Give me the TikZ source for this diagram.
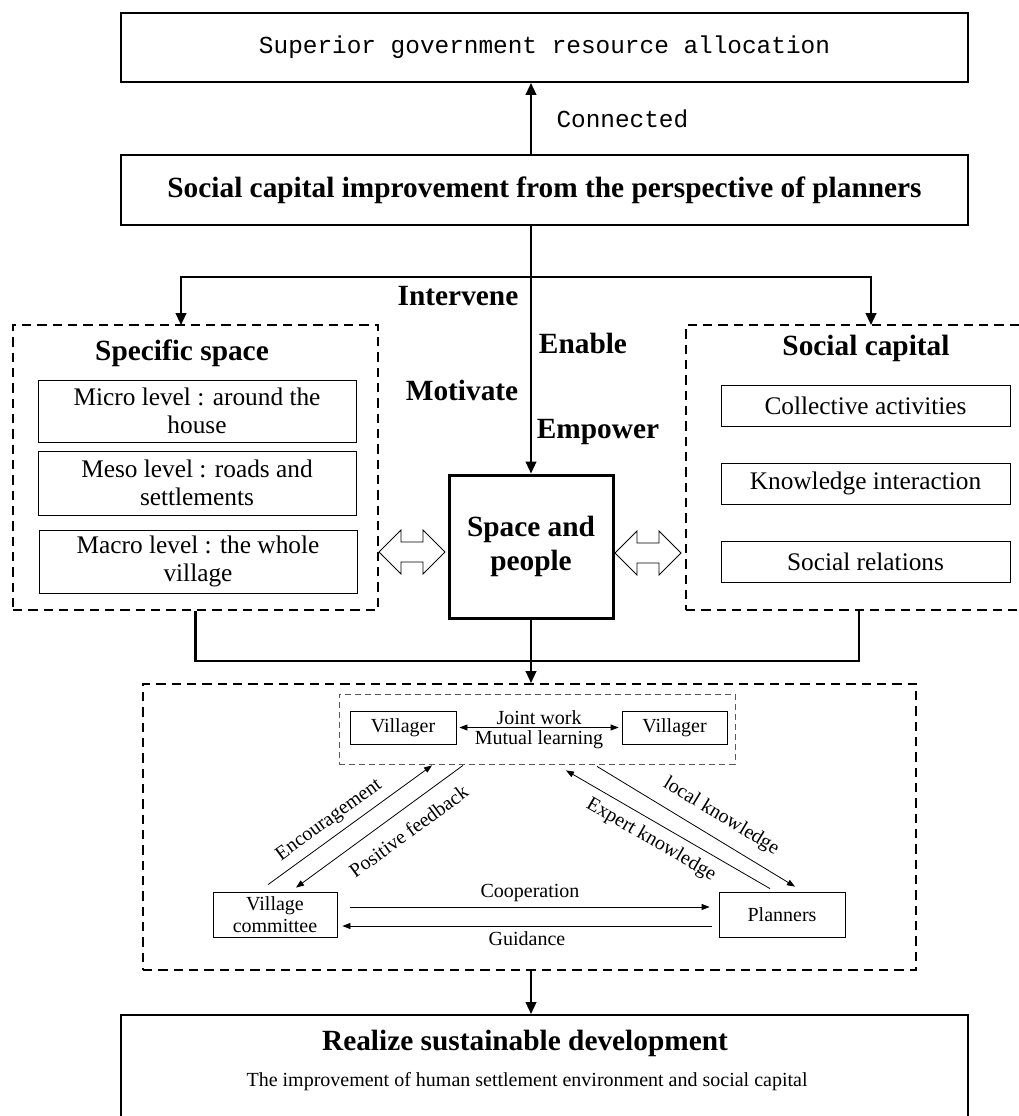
\documentclass[tikz,border=0pt]{standalone}
\usepackage{fontspec}
\setmainfont{Liberation Serif}
\newfontfamily\monofont{Liberation Mono}
\usetikzlibrary{arrows.meta,calc}

\tikzset{
  pics/hollowarrow/.style={code={
    \draw[line width=0.6pt,fill=white] (-33,0) -- (-11,-22) -- (-11,-10) -- (11,-10)
      -- (11,-22) -- (33,0) -- (11,22) -- (11,10) -- (-11,10) -- (-11,22) -- cycle;}}
}

\begin{document}
\begin{tikzpicture}[x=0.75pt,y=-0.75pt,
    box/.style={draw,line width=1.5pt,inner sep=0pt},
    dbox/.style={draw,line width=1.5pt,dash pattern=on 7pt off 4.5pt,inner sep=0pt},
    lvl/.style={draw,line width=0.6pt,inner sep=0pt,align=center,font=\fontsize{19}{21}\selectfont},
    small/.style={draw,line width=0.6pt,inner sep=0pt,align=center,font=\fontsize{15}{16}\selectfont},
    lbl/.style={font=\bfseries\fontsize{22}{26}\selectfont},
    slbl/.style={font=\fontsize{15}{16}\selectfont,inner sep=2pt},
    arr/.style={line width=1.6pt,-{Triangle[length=9pt,width=8pt]}},
    sarr/.style={line width=0.6pt,-{Triangle[length=6pt,width=4.5pt]}}]
  \useasboundingbox (0,0) rectangle (1019,1116);

  % top of the scheme
  \node[box,minimum width=635.25pt,minimum height=51.75pt,
    font=\monofont\fontsize{18.3}{20}\selectfont] (top) at (544.5,47.5)
    {Superior government resource allocation};
  \node[box,minimum width=635.25pt,minimum height=52.5pt,
    font=\bfseries\fontsize{22}{24}\selectfont] (plan) at (544.5,190)
    {Social capital improvement from the perspective of planners};

  % space and people
  \node[draw,line width=2.25pt,minimum width=123pt,minimum height=107.25pt,
    align=center,lbl] (sp) at (531,546.5) {Space and\\people};

  % specific space
  \node[dbox,minimum width=273.75pt,minimum height=213.75pt] (lbox) at (195.5,467.5) {};
  \node[lbl] (lttl) at (182,353) {Specific space};
  \node[lvl,minimum width=238.5pt,minimum height=46.5pt] (micro) at (197,411)
    {Micro level : around the\\house};
  \node[lvl,minimum width=238.5pt,minimum height=48pt] (meso) at (197,483)
    {Meso level : roads and\\settlements};
  \node[lvl,minimum width=238.5pt,minimum height=47.25pt] (macro) at (198,561.5)
    {Macro level : the whole\\village};

  % social capital
  \node[dbox,minimum width=259.5pt,minimum height=213.75pt] (rbox) at (859,467.5) {};
  \node[lbl] (rttl) at (866,348) {Social capital};
  \node[lvl,minimum width=216.75pt,minimum height=30.75pt] (coll) at (865.5,405.5)
    {Collective activities};
  \node[lvl,minimum width=216.75pt,minimum height=30.75pt] (know) at (865.5,483.5)
    {Knowledge interaction};
  \node[lvl,minimum width=216.75pt,minimum height=30.75pt] (rel) at (865.5,562)
    {Social relations};

  \pic (hl) at (412,552) {hollowarrow};
  \pic (hr) at (648,553) {hollowarrow};

  % verbs
  \node[lbl] (intv) at (458,296) {Intervene};
  \node[lbl] (enab) at (583,343) {Enable};
  \node[lbl] (motv) at (462,390) {Motivate};
  \node[lbl] (empw) at (598,432) {Empower};

  % actors
  \node[dbox,minimum width=579.75pt,minimum height=214.5pt] (dbox) at (529.5,827) {};
  \node[draw=black!65,line width=0.6pt,dash pattern=on 4.5pt off 3pt,
    minimum width=297pt,minimum height=52.5pt] (ibox) at (537,729) {};
  \node[small,minimum width=79.5pt,minimum height=24.75pt] (vl) at (403,727.5) {Villager};
  \node[small,minimum width=78.75pt,minimum height=24.75pt] (vr) at (674.5,727.5) {Villager};
  \node[small,minimum width=93pt,minimum height=33.75pt] (vc) at (275,914.5)
    {Village\\committee};
  \node[small,minimum width=94.5pt,minimum height=33.75pt] (pl) at (782,914.5) {Planners};

  % result
  \node[box,minimum width=635.25pt,minimum height=93.75pt] (bot) at (544.5,1077.5) {};
  \node[lbl] (rsd) at (525,1043) {Realize sustainable development};
  \node[slbl] (imp) at (527,1082)
    {The improvement of human settlement environment and social capital};

  % main connectors
  \draw[arr] (plan.north -| sp.north) -- (top.south -| sp.north)
    node[midway,right=15pt,font=\monofont\fontsize{18.3}{20}\selectfont] {Connected};
  \draw[arr] (plan.south -| sp.north) -- (sp.north);
  \coordinate (split) at (531,277);
  \coordinate (lin) at (181,325);
  \coordinate (rin) at (871,325);
  \draw[arr] (split) -| (lin);
  \draw[arr] (split) -| (rin);
  \draw[line width=1.6pt] (lbox.south) -- (lbox.south |- 0,661)
    -- (rbox.south |- 0,661) -- (rbox.south);
  \draw[arr] (sp.south) -- (sp.south |- dbox.north);
  \draw[arr] (dbox.south -| sp.south) -- (bot.north -| sp.south);

  % actor connectors
  \draw[sarr,{Triangle[length=6pt,width=4.5pt]}-{Triangle[length=6pt,width=4.5pt]}]
    ($(vl.east)+(3,0)$) -- ($(vr.west)+(-3,0)$)
    node[midway,above,slbl] {Joint work}
    node[midway,below,slbl] {Mutual learning};
  \draw[sarr] ($(vc.east)+(13,-7.5)$) -- ($(pl.west)+(-9,-7.5)$)
    node[midway,above,slbl,inner sep=4pt] {Cooperation};
  \draw[sarr] ($(pl.west)+(-7,11.5)$) -- ($(vc.east)+(5,11.5)$)
    node[midway,below,slbl,inner sep=4pt] {Guidance};
  \draw[sarr] ($(vc.north)+(-7,-7)$) -- ($(ibox.south)+(-105,1)$)
    node[pos=0.43,above,sloped,slbl,inner sep=5pt] {Encouragement};
  \draw[sarr] ($(ibox.south)+(-74,1)$) -- ($(vc.north)+(21,-4)$)
    node[pos=0.4,below,sloped,slbl,inner sep=10pt] {Positive feedback};
  \draw[sarr] ($(pl.north)+(-12,-3)$) -- ($(ibox.south)+(29,6)$)
    node[pos=0.54,below,sloped,slbl,inner sep=6pt] {Expert knowledge};
  \draw[sarr] ($(ibox.south)+(60,2)$) -- ($(pl.north)+(13,-5)$)
    node[pos=0.57,above,sloped,slbl,inner sep=9pt] {local knowledge};
\end{tikzpicture}
\end{document}
